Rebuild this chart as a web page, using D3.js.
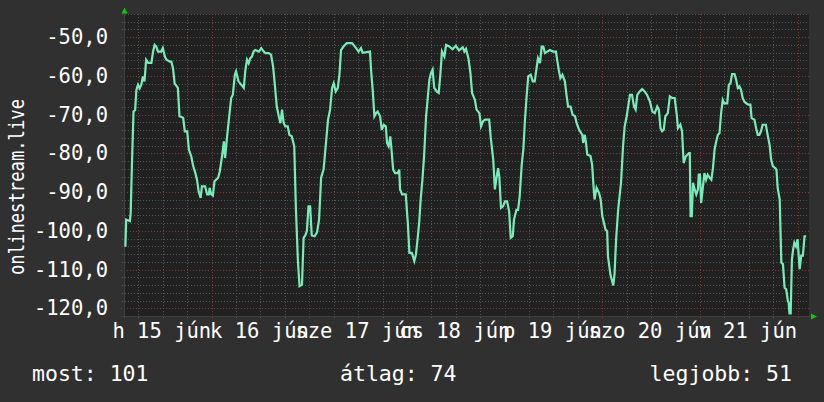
<!DOCTYPE html>
<html>
<head>
<meta charset="utf-8">
<script src="https://cdn.jsdelivr.net/npm/d3@7"></script>
<style>
  body { margin: 0; background: #303030; }
  text { font-family: "DejaVu Sans Mono", monospace; fill: #fff; }
</style>
</head>
<body>
<div id="chart"></div>
<script>
// hours since 2015-06-15 00:00 and the measured value at that moment
var hours = [
  2.8,3.0,3.9,4.1,4.4,4.8,5.2,5.5,5.9,6.3,6.7,7.1,7.5,7.9,8.4,9.2,9.6,10.0,10.4,10.8,11.6,12.0,12.5,12.9,13.7,14.1,14.5,14.9,15.7,16.1,17.0,17.4,18.0,18.4,19.0,19.4,20.0,20.4,20.8,21.3,21.6,22.4,22.9,23.3,23.5,23.9,24.3,24.7,25.6,26.0,26.5,27.0,27.3,27.8,28.4,28.8,29.2,29.7,30.0,
  30.6,31.3,31.9,32.3,32.7,33.1,33.5,33.9,34.3,34.7,35.6,36.2,36.8,37.2,38.0,38.6,39.1,39.5,40.0,40.5,40.9,41.3,41.7,42.1,42.7,43.1,43.7,44.3,44.7,45.2,45.6,46.2,46.6,47.0,47.4,47.8,48.2,48.6,49.3,49.9,50.4,50.9,51.5,52.1,52.6,53.1,53.6,54.0,54.5,55.0,55.4,55.8,56.4,57.2,58.5,
  59.5,60.1,60.7,61.1,62.9,63.2,63.6,64.0,64.4,64.8,65.4,65.8,66.3,66.8,67.1,67.5,67.9,68.2,68.6,69.1,69.7,70.1,70.3,70.8,71.7,72.2,72.6,73.2,73.8,74.2,74.6,75.0,75.4,75.8,76.2,76.7,77.1,77.5,77.9,78.3,78.7,79.3,79.8,80.2,80.6,81.2,81.6,82.4,83.2,84.0,84.8,85.7,
  86.1,86.5,87.1,87.6,88.0,88.7,89.1,89.8,90.2,90.7,91.2,92.2,92.6,93.2,93.6,94.0,94.4,94.7,95.1,95.6,96.1,96.6,97.1,97.5,98.0,98.3,98.9,99.3,99.7,100.2,100.6,101.0,101.4,101.8,102.4,102.9,103.4,103.9,104.2,104.7,105.1,105.5,105.9,106.5,107.1,107.9,108.6,108.9,109.3,109.7,110.2,110.8,111.2,111.6,112.2,112.7,113.3,113.7,114.3,
  115.1,115.3,115.7,116.0,116.3,117.1,117.5,117.9,118.1,118.6,119.2,119.6,120.0,120.4,120.8,121.2,121.4,122.0,122.7,123.0,123.4,123.9,124.3,124.6,125.1,125.5,126.0,126.3,126.8,127.3,127.8,128.2,128.6,129.2,129.8,130.4,131.0,131.7,132.3,132.9,133.5,133.9,134.3,134.7,135.1,135.5,136.1,136.6,137.2,137.8,138.3,138.6,139.2,139.6,140.0,140.5,141.3,141.5,
  141.7,142.0,142.3,142.7,143.1,143.5,143.7,144.0,144.3,144.7,145.1,145.5,145.9,146.4,146.8,147.2,147.6,148.0,148.4,148.8,149.2,149.6,150.0,150.7,151.1,151.5,151.9,152.5,152.9,153.3,153.7,154.1,154.5,154.9,155.3,155.9,156.4,156.7,157.4,157.8,158.2,158.6,159.0,159.4,160.2,160.7,161.1,161.5,161.9,162.5,162.8,163.1,163.6,164.0,164.4,164.8,165.2,165.6,165.8,166.0,166.3,166.6,166.9,167.2,167.6,168.0,168.5,168.9,169.3,169.7,170.1
];
var signal = [
  -104.1,-97.1,-97.5,-95.5,-83.3,-69.2,-68.8,-63.6,-62.3,-63.2,-62.3,-60.1,-61.4,-55.8,-56.6,-56.6,-53.7,-52.0,-52.4,-53.7,-53.7,-52.8,-55,-55.8,-56.3,-56.3,-58,-61.9,-63.1,-70.4,-70.8,-74.3,-74.3,-79,-80.8,-83,-85.1,-86.8,-89.8,-91.5,-88.5,-88.5,-90.6,-90.6,-88.9,-90.6,-90.9,-87.2,-86.3,-84.6,-81.2,-76.9,-81.2,-75.6,-69.6,-65.7,-64.9,-59.7,-58.8,
  -61.4,-62.3,-63.1,-58.4,-55.8,-56.7,-55.4,-55,-53.7,-53.3,-53.7,-52.8,-53.7,-54.1,-54.1,-54.5,-57.6,-61.9,-67.9,-70.4,-72.2,-68.7,-72.2,-73,-73,-75.2,-75.6,-78.2,-94.1,-107.8,-114.3,-113.9,-101.8,-101.2,-100.1,-93.7,-93.7,-101.2,-101.4,-100.4,-97.1,-86.3,-84.2,-77.3,-71.3,-68.7,-63.1,-61.9,-64,-63.1,-59.7,-53.3,-52.4,-51.5,-51.5,
  -52.8,-53.7,-52.8,-54,-53.7,-58.8,-64,-70.4,-69.6,-69.2,-70.4,-73.9,-72.6,-73,-77.3,-78.2,-75.6,-79,-84.2,-85.1,-85.1,-84.2,-89.3,-90.6,-90.6,-97.9,-105.7,-105.7,-107.8,-106.1,-102.2,-97.9,-91.5,-86.8,-80.8,-70.4,-65.7,-61,-59.3,-58.4,-63.1,-64,-64.4,-59.7,-53.7,-55,-52,-52.4,-53.1,-52.2,-53.4,-52.6,
  -53.7,-53,-55.4,-59.3,-64.4,-66.2,-68.7,-69.6,-73,-71.7,-71.3,-71.3,-76,-81.6,-89.3,-86.3,-83.8,-86,-94.1,-93.7,-92.4,-92.4,-94.9,-101.8,-101.4,-97.1,-94.6,-94.6,-91.1,-82.9,-79,-71.3,-65.3,-60.1,-59.7,-61.4,-61.4,-57.6,-55.4,-56.7,-52.4,-52.4,-54.1,-53.7,-53.3,-53.7,-53.7,-55.8,-58.4,-60.6,-59.7,-61.4,-64.9,-67.9,-67.9,-70,-70.4,-72.2,-73.9,
  -75.2,-77.3,-75.2,-77.3,-80.3,-80.7,-82.9,-89.3,-91.9,-88.9,-90.2,-91.9,-96.2,-97.9,-99.7,-100.1,-106.6,-111.3,-114.1,-111.3,-102.2,-94.5,-90.6,-87.6,-78.2,-73,-70.4,-68.3,-64.9,-64.9,-67.9,-68.7,-64.9,-64,-63.4,-64,-64.9,-66.6,-69.2,-69.6,-67.9,-68.7,-73.5,-74.3,-73.9,-70.4,-69.6,-65.3,-65.7,-65.7,-70,-73.5,-72.6,-74.3,-82.5,-80.8,-79.9,-79.9,
  -96.2,-96.2,-87.6,-89.3,-90.6,-89.3,-85.5,-85.5,-92.8,-88.9,-85.1,-86.8,-85.5,-86.3,-86.8,-83.8,-79,-76.9,-75.2,-74.8,-69.6,-66.2,-67.1,-67.1,-62.3,-61.9,-59.5,-59.5,-61,-63.1,-62.7,-63.6,-65.7,-66.6,-67,-67.4,-67.4,-70.9,-71.3,-73.5,-75.2,-75.2,-74.3,-72.6,-72.6,-75.6,-77.7,-81.6,-83.3,-83.8,-84.2,-88.9,-91.9,-108.2,-108.6,-114.7,-115.1,-118.1,-118.5,-121.3,-121.3,-107.4,-104.8,-103.1,-104,-102.2,-109.9,-106.4,-106.4,-101.4,-101.4
];
var yTicks = [-120, -110, -100, -90, -80, -70, -60, -50];
var dayNames = ["v", "h", "k", "sze", "cs", "p", "szo"];
var monthNames = ["jan", "feb", "már", "ápr", "máj", "jún", "júl", "aug", "szept", "okt", "nov", "dec"];
var yTitle = "onlinestream.live";
var legend = ["most: 101", "átlag: 74", "legjobb: 51"];

if (hours.length !== signal.length) throw new Error("length mismatch " + hours.length + " vs " + signal.length);

var W = 824, H = 402;
var margin = {top: 14, left: 124};
var plotW = 685, plotH = 302;

var base = new Date(2015, 5, 15);
function at(h) { return new Date(base.getTime() + h * 3600e3); }

var data = hours.map(function (h, i) { return {t: at(h), v: signal[i]}; });

var hu = d3.timeFormatLocale({
  dateTime: "%Y. %B %-e., %A %X", date: "%Y. %m. %d.", time: "%H:%M:%S", periods: ["de.", "du."],
  days: ["vasárnap", "hétfő", "kedd", "szerda", "csütörtök", "péntek", "szombat"],
  shortDays: dayNames,
  months: ["január", "február", "március", "április", "május", "június", "július", "augusztus", "szeptember", "október", "november", "december"],
  shortMonths: monthNames
});
var fmtDay = hu.format("%a %d %b");
var fmtNum = d3.formatLocale({decimal: ",", thousands: " ", grouping: [3], currency: ["", " Ft"], minus: "-"}).format(".1f");

var x = d3.scaleTime().domain([at(2.46), at(170.8)]).range([margin.left, margin.left + plotW]);
var y = d3.scaleLinear().domain([-122, -44]).range([margin.top + plotH, margin.top]);

var svg = d3.select("#chart").append("svg").attr("width", W).attr("height", H);
svg.append("rect").attr("width", W).attr("height", H).attr("fill", "#303030");
svg.append("rect").attr("x", margin.left).attr("y", margin.top)
  .attr("width", plotW).attr("height", plotH).attr("fill", "#212121");

var x0 = margin.left, x1 = margin.left + plotW, y0 = margin.top, y1 = margin.top + plotH;

// horizontal grid
var minorY = d3.range(-120, -43, 2).filter(function (v) { return v % 10 !== 0; });
svg.append("g").selectAll("line").data(minorY).enter().append("line")
  .attr("x1", x0 - 2).attr("x2", x1).attr("y1", function (d) { return Math.round(y(d)) + 0.5; })
  .attr("y2", function (d) { return Math.round(y(d)) + 0.5; })
  .attr("stroke", "#555").attr("stroke-dasharray", "1,2");
svg.append("g").selectAll("line").data(yTicks).enter().append("line")
  .attr("x1", x0 - 3).attr("x2", x1).attr("y1", function (d) { return Math.round(y(d)) + 0.5; })
  .attr("y2", function (d) { return Math.round(y(d)) + 0.5; })
  .attr("stroke", "#7a3a3a").attr("stroke-dasharray", "1,2");

// vertical grid
var dom = x.domain();
var minorX = d3.timeHour.every(6).range(dom[0], dom[1]).filter(function (d) { return d.getHours() !== 0; });
var majorX = d3.timeDay.range(dom[0], dom[1]);
svg.append("g").selectAll("line").data(minorX).enter().append("line")
  .attr("x1", function (d) { return Math.round(x(d)) + 0.5; }).attr("x2", function (d) { return Math.round(x(d)) + 0.5; })
  .attr("y1", y0).attr("y2", y1 + 2)
  .attr("stroke", "#555").attr("stroke-dasharray", "1,2");
svg.append("g").selectAll("line").data(majorX).enter().append("line")
  .attr("x1", function (d) { return Math.round(x(d)) + 0.5; }).attr("x2", function (d) { return Math.round(x(d)) + 0.5; })
  .attr("y1", y0).attr("y2", y1 + 3)
  .attr("stroke", "#7a3a3a").attr("stroke-dasharray", "1,2");

// axes
svg.append("line").attr("x1", x0 - 3).attr("x2", x1 + 3).attr("y1", y1 + 0.5).attr("y2", y1 + 0.5).attr("stroke", "#404040");
svg.append("line").attr("x1", x0 + 0.5).attr("x2", x0 + 0.5).attr("y1", y0 - 3).attr("y2", y1 + 3).attr("stroke", "#404040");
svg.append("path").attr("d", d3.line()([[x0 - 2.5, y0 - 0.5], [x0 + 3.5, y0 - 0.5], [x0 + 0.5, y0 - 6.5]])).attr("fill", "#00d000");
svg.append("path").attr("d", d3.line()([[x1 + 2, y1 - 2.5], [x1 + 2, y1 + 3.5], [x1 + 8, y1 + 0.5]])).attr("fill", "#00d000");

// series
var line = d3.line().x(function (d) { return x(d.t); }).y(function (d) { return y(d.v); });
svg.append("path").datum(data).attr("d", line)
  .attr("fill", "none").attr("stroke", "#78ecb8").attr("stroke-width", 2.2).attr("stroke-linejoin", "miter");

// y labels
svg.append("g").selectAll("text").data(yTicks).enter().append("text")
  .attr("x", 108).attr("y", function (d) { return y(d) + 7; })
  .attr("text-anchor", "end").style("font-size", "20.5px")
  .text(fmtNum);

// x labels at noon of each day
var days = d3.timeDay.range(d3.timeDay.floor(dom[0]), dom[1]).filter(function (d) {
  return x(d3.timeHour.offset(d, 12)) < x1;
});
svg.append("g").selectAll("text").data(days).enter().append("text")
  .attr("x", function (d) { return x(d3.timeHour.offset(d, 12)) - 1; }).attr("y", 338)
  .attr("text-anchor", "middle").style("font-size", "20.5px")
  .text(fmtDay);

// y title
svg.append("text").attr("transform", "translate(24,187) rotate(-90)")
  .attr("text-anchor", "middle").style("font-size", "22px")
  .attr("textLength", 176).attr("lengthAdjust", "spacingAndGlyphs").text(yTitle);

// legend
var legX = [32, 340, 792], legAnchor = ["start", "start", "end"];
svg.append("g").selectAll("text").data(legend).enter().append("text")
  .attr("x", function (d, i) { return legX[i]; }).attr("y", 381)
  .attr("text-anchor", function (d, i) { return legAnchor[i]; })
  .style("font-size", "21.5px").text(function (d) { return d; });
</script>
</body>
</html>
